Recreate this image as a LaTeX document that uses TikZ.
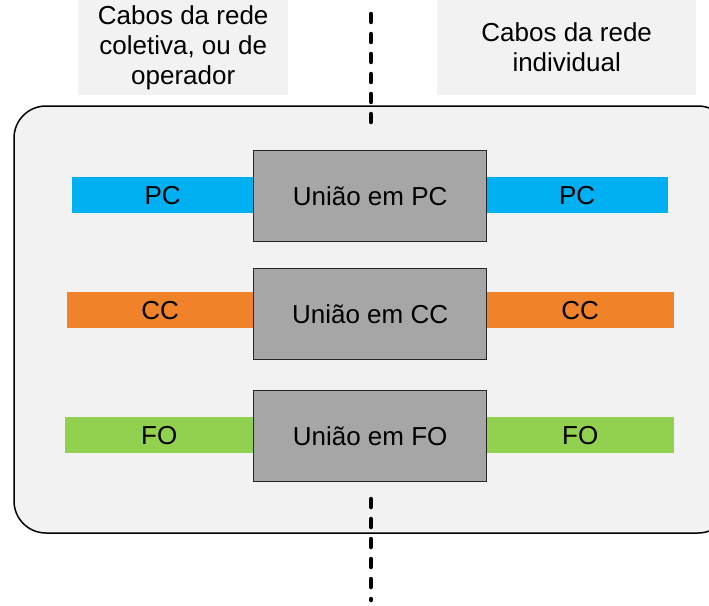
\documentclass[tikz,border=0pt]{standalone}
\usepackage{fontspec}
\setmainfont{Liberation Sans}
\definecolor{pccyan}{HTML}{00B0F0}
\definecolor{ccorange}{HTML}{F0822A}
\definecolor{fogreen}{HTML}{92D050}
\definecolor{panelgray}{HTML}{F2F2F2}
\definecolor{uniongray}{HTML}{A6A6A6}
\begin{document}
\begin{tikzpicture}[x=1pt, y=-1pt, font=\fontsize{26}{30}\selectfont]
  \useasboundingbox (0,0) rectangle (709,605);
  \clip (0,0) rectangle (709,605);
  % headings
  \begin{scope}[every node/.style={fill=panelgray, align=center, inner sep=0pt, anchor=north west}]
    \node[minimum width=210pt, minimum height=95pt] (left) at (78,0) {Cabos da rede\\coletiva, ou de\\operador};
    \node[minimum width=259pt, minimum height=95pt] (right) at (437,0) {Cabos da rede\\individual};
  \end{scope}
  % panel
  \draw[fill=panelgray, line width=1.5pt, rounded corners=32pt] (14,106) rectangle (730,533);
  % cables
  \begin{scope}[every node/.style={inner sep=0pt, minimum height=36pt, anchor=north west}]
    \node[fill=pccyan,    minimum width=181pt] (pcl) at (72,177)  {PC};
    \node[fill=pccyan,    minimum width=182pt] (pcr) at (486,177) {PC};
    \node[fill=ccorange,  minimum width=186pt] (ccl) at (67,292)  {CC};
    \node[fill=ccorange,  minimum width=188pt] (ccr) at (486,292) {CC};
    \node[fill=fogreen,   minimum width=188pt] (fol) at (65,417)  {FO};
    \node[fill=fogreen,   minimum width=188pt] (for) at (486,417) {FO};
  \end{scope}
  % unions
  \begin{scope}[every node/.style={draw=black!85, line width=1.3pt, fill=uniongray, inner sep=0pt,
      minimum width=233pt, minimum height=91pt, anchor=north west}]
    \node (upc) at (253,150) {União em PC};
    \node (ucc) at (253,268) {União em CC};
    \node (ufo) at (253,390) {União em FO};
  \end{scope}
  % cut line
  \coordinate (cuta) at (371,14);
  \coordinate (cutb) at (371,126);
  \coordinate (cutc) at (371,499);
  \coordinate (cutd) at (371,600);
  \begin{scope}[every path/.style={line width=4.5pt, line cap=round, dash pattern=on 8pt off 12pt}]
    \draw (cuta) -- (cutb);
    \draw (cutc) -- (cutd);
  \end{scope}
\end{tikzpicture}
\end{document}
